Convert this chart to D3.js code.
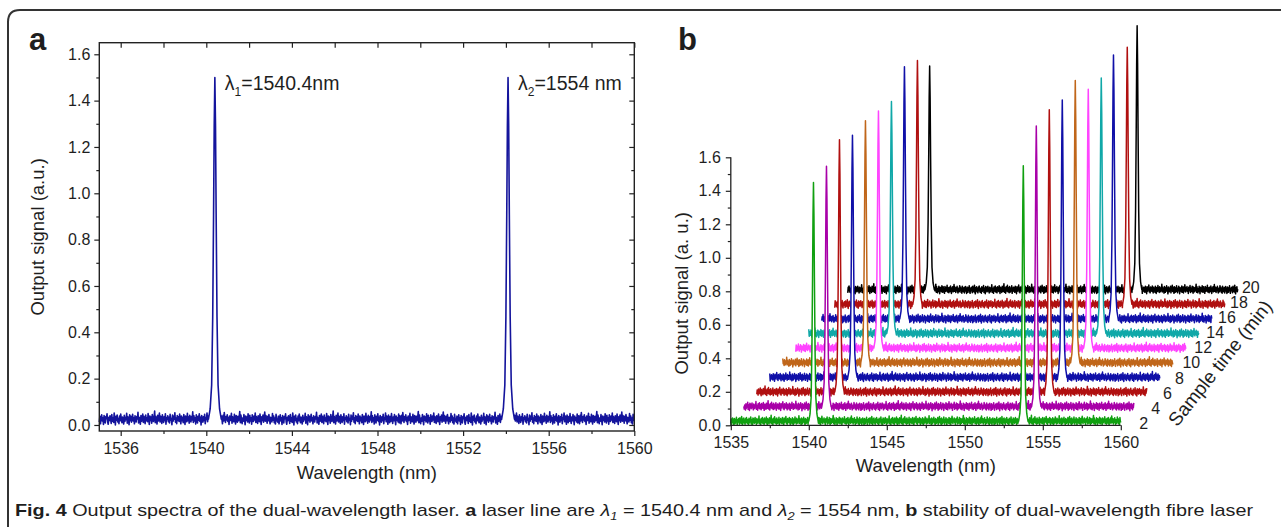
<!DOCTYPE html>
<html><head><meta charset="utf-8">
<script src="https://cdn.jsdelivr.net/npm/d3@7"></script>
<style>
body{margin:0;background:#fff}
svg{display:block}
text{font-family:"Liberation Sans",Arial,sans-serif;fill:#1e1e1e}
</style>
</head><body>
<svg id="c" width="1281" height="527"></svg>
<script>
// ---------- DATA ----------
// baseline noise (thousandths of a.u.), estimated from the spectra
const noise = [
12,38,5,29,44,17,31,2,41,22,9,36,27,48,14,3,33,19,40,25,
7,45,16,30,11,52,24,0,37,21,43,13,28,6,39,18,47,26,10,34,
20,4,42,15,32,23,50,8,35,27,1,44,19,38,12,29,46,17,31,5,
40,22,13,36,26,55,9,33,21,3,41,16,28,47,11,37,24,6,43,18,
30,14,49,25,2,39,20,34,8,45,27,15,32,60,10,36,23,4,42,17,
29,51,13,38,22,7,44,26,11,35,19,48,3,31,24,40,14,33,9,46,
21,28,1,43,16,37,25,53,12,30,6,41,20,35,15,47,27,5,39,18,
32,10,45,23,2,38,26,14,50,19,34,8,42,29,13,36,22,57,11,40,
17,31,4,44,25,9,37,21,48,15,33,0,41,27,12,35,19,46,6,30,
24,52,14,39,20,3,43,28,10,36,16,49,23,7,34,18,45,26,1,38,
21,31,13,47,9,40,25,5,42,17,54,29,11,36,22,44,15,32,2,39,
19,27,50,8,35,24,14,46,20,4,41,28,12,37,18,33,58,10,43,23,
6,30,16,45,26,1,39,21,34,13,48,25,9,42,17,31,3,44,27,15,
38,22,51,11,36,19,7,40,29,14,47,24,2,35,20,43,12,32,56,16,
41,26,8,37,18,45,23,5,33,28,13,49,21,39,10,30,4,46,25,17
];
const noiseBase = 0.025;
// laser line shape: offset from centre (nm) and fraction of peak height
const peakOffsets = [-0.3,-0.22,-0.15,-0.1,-0.06,-0.03,0,0.03,0.06,0.1,0.15,0.22,0.3];
const peakProfile = [0,0.03,0.1,0.3,0.6,0.86,1,0.86,0.6,0.3,0.1,0.03,0];

// panel a
const aPeakWl = [1540.4, 1554.1];
const aPeakTop = [1.5, 1.5];
const aXMajor = [1536,1540,1544,1548,1552,1556,1560];
const aXMinor = [1538,1542,1546,1550,1554,1558];
const aYMajor = [0,0.2,0.4,0.6,0.8,1.0,1.2,1.4,1.6];
const aYMinor = [0.1,0.3,0.5,0.7,0.9,1.1,1.3,1.5];

// panel b
const sampleTimes = [2,4,6,8,10,12,14,16,18,20];
const seriesColors = ["#10a010","#a800a8","#b01010","#1010a8","#c0661a","#ff44ff","#10a8a8","#1010a8","#b01010","#000000"];
const bPeak1Wl = [1540.3,1540.3,1540.3,1540.3,1540.3,1540.3,1540.3,1540.3,1540.3,1540.25];
const bPeak2Wl = [1553.75,1553.75,1553.75,1553.75,1553.75,1553.75,1553.75,1553.7,1553.75,1553.55];
const bPeak1Top = [1.45,1.46,1.53,1.47,1.47,1.44,1.41,1.53,1.48,1.36];
const bPeak2Top = [1.55,1.70,1.71,1.68,1.71,1.57,1.55,1.60,1.56,1.60];
const wlOffsetStep = 0.833;   // waterfall offset per sample (nm)
const sigOffsetStep = 0.0872; // waterfall offset per sample (a.u.)
const bXMajor = [1535,1540,1545,1550,1555,1560];
const bXMinor = [1537.5,1542.5,1547.5,1552.5,1557.5];
const bYMajor = [0,0.2,0.4,0.6,0.8,1.0,1.2,1.4,1.6];
const bYMinor = [0.1,0.3,0.5,0.7,0.9,1.1,1.3,1.5];

// ---------- helpers ----------
function buildSpectrum(shift, peaks){
  const n = noise.length, m = 3*n, pts = [];
  for(let j=0;j<m;j++){
    const wl = 1535 + j*25/(m-1);
    if(peaks.some(p=>Math.abs(wl-p.wl) <= 0.3)) continue;
    pts.push([wl, noise[(j+shift)%n]/1000]);
  }
  peaks.forEach(p=>peakOffsets.forEach((o,k)=>pts.push([p.wl+o, noiseBase + peakProfile[k]*(p.top-noiseBase)])));
  pts.sort((a,b)=>a[0]-b[0]);
  return pts;
}
const fmt = d3.format(".1f");
const svg = d3.select("#c");

// frame
svg.append("path").attr("d","M8,527 V22 Q8,10 20,10 H1281")
  .attr("fill","none").attr("stroke","#333").attr("stroke-width",2);

function styleAxis(g, fs){
  g.attr("font-size",fs);
  g.select(".domain").remove();
  g.selectAll(".tick line").attr("stroke","#222").attr("stroke-width",1.2);
  g.selectAll(".tick text").attr("font-size",fs).attr("fill","#1e1e1e")
   .attr("font-family",'"Liberation Sans",Arial,sans-serif');
}

// ---------- PANEL A ----------
const xA = d3.scaleLinear().domain([1535,1560]).range([99.3,634.3]);
const yA = d3.scaleLinear().domain([-0.026,1.65]).range([431,42.7]);
const gA = svg.append("g");

const specA = buildSpectrum(0, aPeakWl.map((w,i)=>({wl:w, top:aPeakTop[i]})));
gA.append("path").datum(specA)
  .attr("d", d3.line().x(d=>xA(d[0])).y(d=>yA(d[1])))
  .attr("fill","none").attr("stroke","#14149c").attr("stroke-width",1.6).attr("stroke-linejoin","round");

// axes
const [ax0,ax1] = xA.range(), [ay0,ay1] = yA.range();
gA.append("g").attr("transform",`translate(0,${ay0})`)
  .call(d3.axisBottom(xA).tickValues(aXMajor).tickSize(5).tickPadding(7).tickFormat(d3.format("d")))
  .call(g=>styleAxis(g,16));
gA.append("g").attr("transform",`translate(0,${ay0})`)
  .call(d3.axisBottom(xA).tickValues(aXMinor).tickSize(3).tickFormat(""))
  .call(g=>styleAxis(g,16));
gA.append("g").attr("transform",`translate(0,${ay1})`)
  .call(d3.axisBottom(xA).tickValues(aXMajor.concat(aXMinor)).tickSize(5).tickFormat(""))
  .call(g=>styleAxis(g,16));
gA.append("g").attr("transform",`translate(${ax0},0)`)
  .call(d3.axisLeft(yA).tickValues(aYMajor).tickSize(5).tickPadding(4).tickFormat(fmt))
  .call(g=>styleAxis(g,16));
gA.append("g").attr("transform",`translate(${ax0},0)`)
  .call(d3.axisLeft(yA).tickValues(aYMinor).tickSize(3).tickFormat(""))
  .call(g=>styleAxis(g,16));
gA.append("g").attr("transform",`translate(${ax1},0)`)
  .call(d3.axisLeft(yA).tickValues(aYMajor).tickSize(5).tickFormat(""))
  .call(g=>styleAxis(g,16));
gA.append("g").attr("transform",`translate(${ax1},0)`)
  .call(d3.axisLeft(yA).tickValues(aYMinor).tickSize(3).tickFormat(""))
  .call(g=>styleAxis(g,16));
gA.append("rect").attr("x",ax0).attr("y",ay1).attr("width",ax1-ax0).attr("height",ay0-ay1)
  .attr("fill","none").attr("stroke","#222").attr("stroke-width",1.4);

gA.append("text").attr("x",(ax0+ax1)/2).attr("y",479).attr("text-anchor","middle")
  .attr("font-size",18.5).text("Wavelength (nm)");
gA.append("text").attr("transform",`translate(44,${(ay0+ay1)/2}) rotate(-90)`).attr("text-anchor","middle")
  .attr("font-size",18.5).text("Output signal (a.u.)");
gA.append("text").attr("x",29).attr("y",50).attr("font-size",31).attr("font-weight","bold").text("a");

// peak annotations
const annA = [["1","=1540.4nm"],["2","=1554 nm"]];
aPeakWl.forEach((w,i)=>{
  const t = gA.append("text").attr("x",xA(w)+10).attr("y",yA(aPeakTop[i])+13).attr("font-size",19.5);
  t.append("tspan").text("λ");
  t.append("tspan").attr("font-size",12).attr("dy",6).text(annA[i][0]);
  t.append("tspan").attr("dy",-6).text(annA[i][1]);
});

// ---------- PANEL B ----------
const xB = d3.scaleLinear().domain([1535,1560]).range([730.8,1120.8]);
const yB = d3.scaleLinear().domain([0,1.6]).range([425.3,157.3]);
const gB = svg.append("g");

const seriesB = sampleTimes.map((t,i)=>({
  i, t, color: seriesColors[i],
  pts: buildSpectrum(37*i, [{wl:bPeak1Wl[i], top:bPeak1Top[i]},{wl:bPeak2Wl[i], top:bPeak2Top[i]}])
}));
const px = (d,i)=>xB(d[0] + wlOffsetStep*i);
const py = (d,i)=>yB(d[1] + sigOffsetStep*i);
seriesB.slice().reverse().forEach(s=>{
  gB.append("path").datum(s.pts)
    .attr("d", d3.area().x(d=>px(d,s.i)).y1(d=>py(d,s.i)).y0(yB(0)))
    .attr("fill","#fff");
  gB.append("path").datum(s.pts)
    .attr("d", d3.line().x(d=>px(d,s.i)).y(d=>py(d,s.i)))
    .attr("fill","none").attr("stroke",s.color).attr("stroke-width",1.5).attr("stroke-linejoin","round");
});

const [bx0,bx1] = xB.range(), [by0,by1] = yB.range();
gB.append("g").attr("transform",`translate(0,${by0})`)
  .call(d3.axisBottom(xB).tickValues(bXMajor).tickSize(5).tickPadding(6).tickFormat(d3.format("d")))
  .call(g=>styleAxis(g,16));
gB.append("g").attr("transform",`translate(0,${by0})`)
  .call(d3.axisBottom(xB).tickValues(bXMinor).tickSize(3).tickFormat(""))
  .call(g=>styleAxis(g,16));
gB.append("g").attr("transform",`translate(${bx0},0)`)
  .call(d3.axisLeft(yB).tickValues(bYMajor).tickSize(5).tickPadding(5).tickFormat(fmt))
  .call(g=>styleAxis(g,16));
gB.append("g").attr("transform",`translate(${bx0},0)`)
  .call(d3.axisLeft(yB).tickValues(bYMinor).tickSize(3).tickFormat(""))
  .call(g=>styleAxis(g,16));
gB.append("path").attr("d",`M${bx0},${by1} V${by0} H${bx1}`)
  .attr("fill","none").attr("stroke","#222").attr("stroke-width",1.3);

gB.append("text").attr("x",(bx0+bx1)/2).attr("y",472).attr("text-anchor","middle")
  .attr("font-size",18.5).text("Wavelength (nm)");
gB.append("text").attr("transform",`translate(688,${(by0+by1)/2+2}) rotate(-90)`).attr("text-anchor","middle")
  .attr("font-size",18.5).text("Output signal (a. u.)");
gB.append("text").attr("x",678).attr("y",50).attr("font-size",31).attr("font-weight","bold").text("b");

// sample-time (depth) axis labels
const zx = d3.scaleLinear().domain([2,20]).range([xB(1560)+23, xB(1560)+130]);
const zy = d3.scaleLinear().domain([2,20]).range([yB(0)-2, yB(0)-138]);
gB.selectAll("text.z").data(sampleTimes).join("text").attr("class","z")
  .attr("x",d=>zx(d)).attr("y",d=>zy(d)).attr("dy","0.35em").attr("text-anchor","middle")
  .attr("font-size",16).text(d=>d);
gB.append("text").attr("transform","translate(1220,363) rotate(-51.6)").attr("text-anchor","middle")
  .attr("dy","0.35em").attr("font-size",19).text("Sample time (min)");

// ---------- CAPTION ----------
const cap = svg.append("text").attr("x",15).attr("y",516).attr("font-size",17)
  .attr("font-family",'"Liberation Sans Narrow","DejaVu Sans Condensed","Liberation Sans",sans-serif')
  .attr("textLength",1238).attr("lengthAdjust","spacingAndGlyphs");
const parts = [
  ["Fig. 4","b"],[" Output spectra of the dual-wavelength laser. ",""],["a","b"],[" laser line are ",""],
  ["λ","i"],["1","s"],[" = 1540.4 nm and ",""],["λ","i"],["2","s"],[" = 1554 nm, ",""],
  ["b","b"],[" stability of dual-wavelength fibre laser",""]
];
parts.forEach(([t,s])=>{
  const ts = cap.append("tspan").text(t);
  if(s==="b") ts.attr("font-weight","bold");
  if(s==="i") ts.attr("font-style","italic");
  if(s==="s") ts.attr("font-size",11).attr("font-style","italic").attr("dy",4);
  if(s==="" && (t.startsWith(" = "))) ts.attr("dy",-4);
});
</script>
</body></html>
